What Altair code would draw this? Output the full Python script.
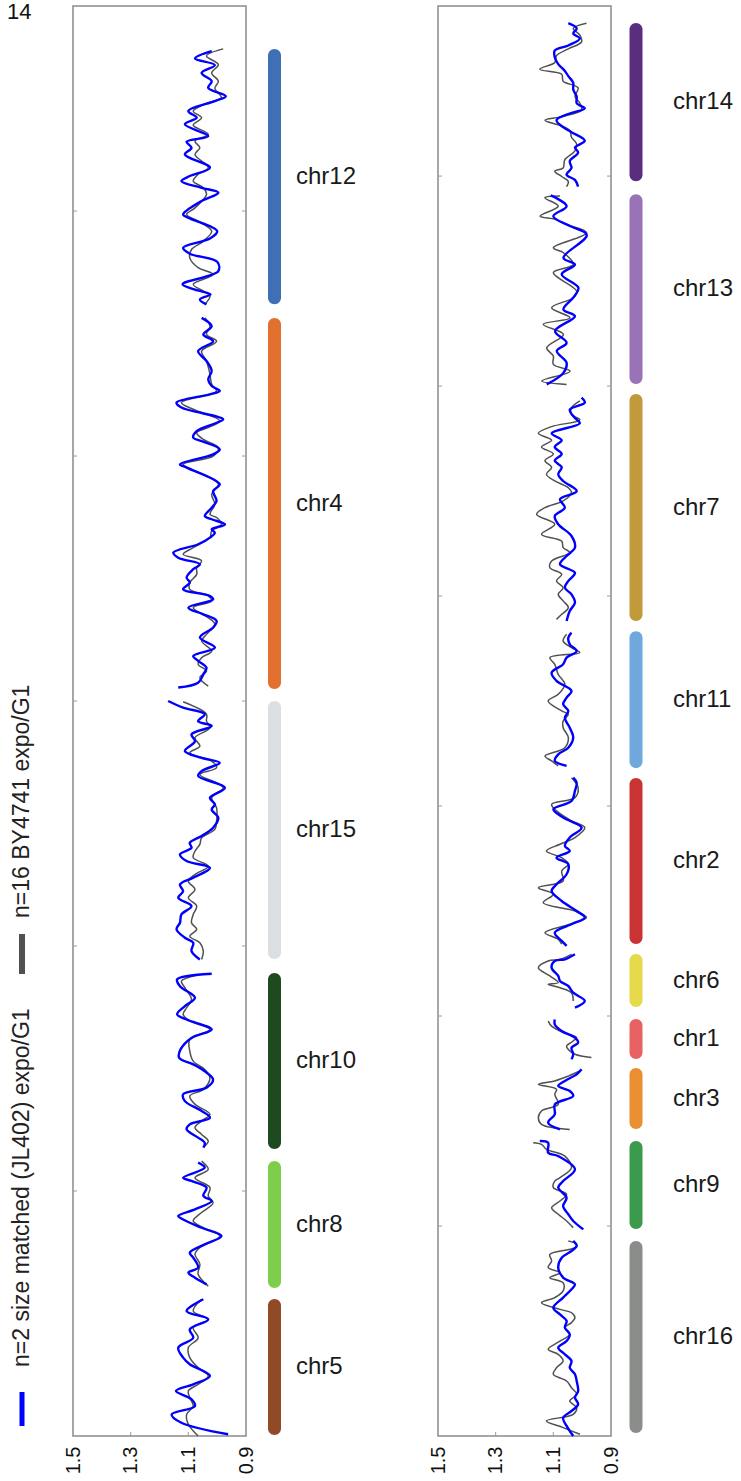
import altair as alt
import pandas as pd

# ---------------- chromosome blocks (Mb, cumulative from panel bottom) -------------
LEFT_CHR = ["chr12", "chr4", "chr15", "chr10", "chr8", "chr5"]
LEFT_TOP = [5.661, 4.563, 3.000, 1.890, 1.122, 0.559]
LEFT_BOTTOM = [4.620, 3.049, 1.947, 1.171, 0.604, 0.004]
LEFT_COLOR = ["#3f6fb4", "#e2702f", "#dcdfe2", "#1f4a1f", "#7dcf4b", "#904a26"]

RIGHT_CHR = ["chr14", "chr13", "chr7", "chr11", "chr2", "chr6", "chr1", "chr3", "chr9", "chr16"]
RIGHT_TOP = [6.729, 5.914, 4.962, 3.833, 3.133, 2.295, 1.986, 1.752, 1.405, 0.929]
RIGHT_BOTTOM = [5.976, 5.010, 3.881, 3.181, 2.343, 2.043, 1.795, 1.462, 0.986, 0.014]
RIGHT_COLOR = ["#5a2e7e", "#9a72b6", "#c09a3b", "#6fa8dc", "#c93333", "#e6d94c",
               "#e86262", "#e98f31", "#3b9a4b", "#8b8d8b"]

LEFT_TICKS = [1, 2, 3, 4, 5]
RIGHT_TICKS = [1, 2, 3, 4, 5, 6]
X_TICKS = [1.5, 1.3, 1.1, 0.9]
LEFT_MAX = 5.837
RIGHT_MAX = 6.810

LEGEND_LABELS = ["n=2 size matched (JL402) expo/G1", "n=16 BY4741 expo/G1"]
CORNER_TEXT = "14"

# ---------------- traces: (position Mb, expo/G1 ratio) ----------------
CHR12_BLUE = [(5.653,1.019),(5.623,1.077),(5.596,1.008),(5.564,1.054),(5.530,1.019),(5.503,1.031),(5.469,0.970),(5.449,1.008),(5.408,1.100),(5.381,1.071),(5.354,1.112),(5.306,1.031),(5.283,1.106),(5.258,1.089),(5.231,1.112),(5.177,1.025),(5.143,1.095),(5.122,1.124),(5.095,1.054),(5.075,0.996),(5.041,1.054),(4.986,1.118),(4.970,1.095),(4.918,1.000),(4.888,1.025),(4.850,1.118),(4.826,1.095),(4.793,1.000),(4.755,0.996),(4.701,1.120),(4.679,1.077),(4.660,1.023),(4.639,1.060),(4.619,1.037)]
CHR12_GRAY = [(5.662,0.979),(5.633,1.037),(5.598,0.996),(5.564,1.019),(5.530,0.996),(5.501,1.008),(5.462,0.985),(5.442,1.031),(5.408,1.083),(5.381,1.054),(5.351,1.083),(5.313,1.031),(5.286,1.077),(5.258,1.060),(5.231,1.077),(5.177,1.031),(5.150,1.066),(5.122,1.083),(5.095,1.048),(5.068,1.037),(5.013,1.077),(4.986,1.106),(4.959,1.066),(4.918,1.019),(4.877,1.048),(4.843,1.089),(4.809,1.095),(4.769,1.066),(4.741,1.014),(4.701,1.083),(4.673,1.048),(4.653,1.025),(4.619,1.043)]
CHR4_BLUE = [(4.564,1.054),(4.530,1.019),(4.496,1.048),(4.469,1.014),(4.428,1.066),(4.388,1.037),(4.347,1.019),(4.313,1.031),(4.286,1.019),(4.266,0.991),(4.252,1.025),(4.218,1.141),(4.198,1.124),(4.150,0.979),(4.136,1.002),(4.102,1.071),(4.075,1.083),(4.061,1.054),(4.027,0.991),(4.007,1.014),(3.966,1.129),(3.953,1.106),(3.885,0.991),(3.857,1.014),(3.817,1.002),(3.789,1.019),(3.755,1.043),(3.742,1.019),(3.721,0.973),(3.701,1.019),(3.687,1.008),(3.667,1.025),(3.640,1.066),(3.606,1.152),(3.585,1.135),(3.558,1.060),(3.538,1.083),(3.504,1.106),(3.483,1.095),(3.456,1.118),(3.429,1.025),(3.415,1.014),(3.381,1.100),(3.354,1.048),(3.327,1.002),(3.300,1.014),(3.259,1.060),(3.218,1.008),(3.184,1.083),(3.164,1.066),(3.136,1.037),(3.109,1.048),(3.075,1.066),(3.055,1.135)]
CHR4_GRAY = [(4.564,1.043),(4.530,1.025),(4.496,1.037),(4.469,1.002),(4.428,1.054),(4.388,1.037),(4.334,1.025),(4.293,1.019),(4.266,1.002),(4.252,1.025),(4.218,1.124),(4.191,1.083),(4.143,0.991),(4.116,1.031),(4.095,1.071),(4.068,1.048),(4.034,0.996),(4.000,1.014),(3.966,1.118),(3.946,1.089),(3.885,0.996),(3.844,1.019),(3.803,1.008),(3.762,1.025),(3.749,1.002),(3.721,0.985),(3.694,1.019),(3.667,1.025),(3.626,1.083),(3.599,1.118),(3.572,1.054),(3.544,1.071),(3.517,1.071),(3.483,1.095),(3.456,1.095),(3.429,1.031),(3.408,1.019),(3.381,1.083),(3.340,1.031),(3.313,1.008),(3.272,1.037),(3.245,1.054),(3.204,1.019),(3.177,1.054),(3.150,1.066),(3.123,1.037),(3.095,1.060),(3.061,1.031)]
CHR15_BLUE = [(3.000,1.170),(2.973,1.118),(2.946,1.043),(2.918,1.066),(2.898,1.019),(2.864,1.089),(2.836,1.077),(2.796,1.112),(2.768,1.054),(2.748,0.991),(2.714,1.054),(2.694,1.066),(2.646,0.973),(2.605,1.025),(2.578,1.008),(2.557,1.019),(2.523,0.996),(2.483,1.014),(2.449,1.054),(2.421,1.095),(2.401,1.089),(2.374,1.129),(2.347,1.106),(2.319,1.025),(2.279,1.083),(2.251,1.129),(2.224,1.118),(2.197,1.135),(2.163,1.089),(2.129,1.124),(2.095,1.129),(2.068,1.141),(2.034,1.112),(2.013,1.083),(1.979,1.089),(1.945,1.060)]
CHR15_GRAY = [(2.997,1.118),(2.946,1.037),(2.918,1.037),(2.891,1.025),(2.850,1.077),(2.816,1.060),(2.789,1.095),(2.755,1.019),(2.728,1.002),(2.700,1.060),(2.666,1.002),(2.646,0.979),(2.605,1.019),(2.564,1.002),(2.510,1.002),(2.476,1.008),(2.442,1.054),(2.415,1.060),(2.387,1.077),(2.360,1.083),(2.326,1.031),(2.292,1.077),(2.265,1.100),(2.231,1.077),(2.197,1.100),(2.163,1.071),(2.129,1.083),(2.095,1.089),(2.068,1.071),(2.040,1.095),(2.013,1.060),(1.979,1.048),(1.945,1.054)]
CHR10_BLUE = [(1.887,1.019),(1.864,1.139),(1.836,1.129),(1.789,1.077),(1.755,1.112),(1.721,1.139),(1.700,1.106),(1.659,1.019),(1.625,1.089),(1.578,1.127),(1.544,1.132),(1.517,1.083),(1.489,1.043),(1.455,1.014),(1.422,1.037),(1.395,1.118),(1.367,1.112),(1.327,1.054),(1.299,1.025),(1.272,1.095),(1.252,1.106),(1.218,1.066),(1.197,1.043),(1.177,1.048)]
CHR10_GRAY = [(1.881,1.071),(1.857,1.124),(1.830,1.112),(1.782,1.089),(1.748,1.106),(1.721,1.118),(1.694,1.095),(1.659,1.025),(1.619,1.095),(1.571,1.095),(1.530,1.083),(1.496,1.043),(1.462,1.025),(1.415,1.048),(1.388,1.095),(1.354,1.077),(1.313,1.025),(1.286,1.054),(1.259,1.077),(1.231,1.054),(1.204,1.031),(1.184,1.043)]
CHR8_BLUE = [(1.116,1.066),(1.095,1.043),(1.054,1.118),(1.041,1.089),(1.014,1.037),(0.980,1.048),(0.959,1.019),(0.925,1.077),(0.898,1.135),(0.884,1.118),(0.850,1.054),(0.816,0.985),(0.782,1.043),(0.748,1.095),(0.728,1.083),(0.687,1.066),(0.667,1.100),(0.646,1.077),(0.619,1.037)]
CHR8_GRAY = [(1.122,1.054),(1.088,1.031),(1.054,1.077),(1.014,1.025),(0.980,1.031),(0.952,1.014),(0.912,1.054),(0.878,1.083),(0.850,1.048),(0.816,0.991),(0.769,1.060),(0.742,1.077),(0.701,1.060),(0.660,1.066),(0.612,1.031)]
CHR5_BLUE = [(0.558,1.048),(0.510,1.106),(0.476,1.031),(0.435,1.095),(0.401,1.083),(0.361,1.135),(0.320,1.118),(0.293,1.095),(0.245,1.025),(0.211,1.083),(0.184,1.143),(0.150,1.089),(0.122,1.077),(0.088,1.158),(0.054,1.124),(0.007,0.962)]
CHR5_GRAY = [(0.558,1.054),(0.510,1.083),(0.476,1.031),(0.442,1.083),(0.401,1.066),(0.361,1.100),(0.320,1.095),(0.279,1.066),(0.245,1.031),(0.211,1.066),(0.184,1.100),(0.156,1.095),(0.122,1.083),(0.088,1.106),(0.048,1.100),(0.000,1.066)]

CHR14_BLUE = [(6.728,1.048),(6.703,1.019),(6.679,1.031),(6.655,1.008),(6.622,1.048),(6.598,1.095),(6.566,1.095),(6.533,1.083),(6.501,1.060),(6.476,1.048),(6.444,1.031),(6.412,1.031),(6.379,1.019),(6.347,1.019),(6.322,0.991),(6.298,1.043),(6.266,1.089),(6.233,1.066),(6.209,1.037),(6.168,0.991),(6.136,1.025),(6.112,1.014),(6.071,1.043),(6.039,1.037),(6.006,1.054),(5.982,1.025),(5.950,1.014)]
CHR14_GRAY = [(6.728,0.985),(6.703,1.031),(6.671,1.008),(6.639,1.002),(6.606,1.048),(6.574,1.089),(6.541,1.095),(6.509,1.147),(6.485,1.071),(6.452,1.066),(6.420,1.014),(6.379,1.025),(6.347,1.008),(6.314,1.002),(6.282,1.077),(6.266,1.129),(6.241,1.077),(6.217,1.043),(6.185,1.037),(6.152,1.019),(6.120,1.025),(6.079,1.060),(6.039,1.066),(6.023,1.095),(5.998,1.071),(5.974,1.048),(5.950,1.054)]
CHR13_BLUE = [(5.908,1.109),(5.857,1.054),(5.809,1.100),(5.762,1.042),(5.719,0.984),(5.611,1.065),(5.579,1.025),(5.532,1.071),(5.468,1.013),(5.421,1.031),(5.365,1.065),(5.333,1.025),(5.262,1.094),(5.206,1.054),(5.167,1.088),(5.111,1.054),(5.063,1.065),(5.008,1.123)]
CHR13_GRAY = [(5.905,1.077),(5.897,1.129),(5.857,1.083),(5.809,1.146),(5.794,1.094),(5.770,1.054),(5.730,0.984),(5.659,1.100),(5.635,1.065),(5.579,1.031),(5.540,1.100),(5.452,1.019),(5.421,1.031),(5.373,1.106),(5.325,1.042),(5.294,1.135),(5.246,1.065),(5.182,1.123),(5.143,1.100),(5.103,1.100),(5.071,1.042),(5.024,1.140),(5.008,1.054)]
CHR7_BLUE = [(4.945,1.002),(4.921,0.991),(4.888,1.043),(4.848,1.025),(4.823,1.008),(4.775,1.106),(4.742,1.071),(4.710,1.095),(4.677,1.071),(4.645,1.095),(4.613,1.071),(4.580,1.083),(4.548,1.066),(4.500,1.019),(4.461,1.077),(4.421,1.060),(4.381,1.095),(4.342,1.083),(4.286,1.037),(4.231,1.025),(4.191,1.054),(4.151,1.077),(4.111,1.025),(4.072,1.048),(4.040,1.060),(4.008,1.037),(3.969,1.025),(3.929,1.043),(3.881,1.054)]
CHR7_GRAY = [(4.929,1.008),(4.896,1.037),(4.864,1.037),(4.839,1.008),(4.807,1.106),(4.775,1.152),(4.742,1.106),(4.710,1.141),(4.677,1.100),(4.645,1.129),(4.613,1.106),(4.580,1.124),(4.548,1.095),(4.516,1.048),(4.492,1.037),(4.453,1.066),(4.421,1.129),(4.389,1.158),(4.342,1.095),(4.294,1.141),(4.262,1.071),(4.231,1.066),(4.207,1.043),(4.167,1.106),(4.135,1.112),(4.104,1.071),(4.072,1.089),(4.040,1.066),(4.008,1.083),(3.977,1.066),(3.945,1.048),(3.913,1.071),(3.889,1.089)]
CHR11_BLUE = [(3.826,1.037),(3.802,1.048),(3.770,1.043),(3.738,1.019),(3.707,1.054),(3.675,1.066),(3.635,1.106),(3.596,1.089),(3.548,1.037),(3.516,1.054),(3.485,1.066),(3.453,1.048),(3.421,1.060),(3.373,1.043),(3.326,1.031),(3.278,1.048),(3.246,1.083),(3.215,1.095),(3.191,1.054)]
CHR11_GRAY = [(3.818,1.054),(3.786,1.066),(3.754,1.037),(3.731,1.008),(3.707,1.112),(3.675,1.095),(3.627,1.083),(3.580,1.060),(3.532,1.083),(3.500,1.118),(3.453,1.071),(3.437,1.048),(3.405,1.066),(3.373,1.066),(3.326,1.048),(3.278,1.060),(3.238,1.129),(3.215,1.106),(3.191,1.083)]
CHR2_BLUE = [(3.135,1.031),(3.111,1.019),(3.072,1.025),(3.024,1.037),(2.985,1.100),(2.945,1.066),(2.897,1.002),(2.850,1.043),(2.810,1.060),(2.786,1.043),(2.754,1.089),(2.723,1.048),(2.675,1.054),(2.627,1.089),(2.596,1.106),(2.548,1.071),(2.500,1.019),(2.469,0.991),(2.437,1.037),(2.397,1.095),(2.358,1.071),(2.334,1.054)]
CHR2_GRAY = [(3.135,1.037),(3.088,1.014),(3.040,1.025),(3.008,1.106),(2.977,1.089),(2.929,1.037),(2.897,0.991),(2.850,1.025),(2.818,1.077),(2.786,1.124),(2.754,1.071),(2.723,1.048),(2.691,1.071),(2.643,1.066),(2.611,1.152),(2.580,1.100),(2.540,1.135),(2.500,1.025),(2.469,0.985),(2.437,1.043),(2.397,1.129),(2.365,1.083),(2.342,1.071)]
CHR6_BLUE = [(2.294,1.025),(2.270,1.060),(2.262,1.095),(2.230,1.106),(2.191,1.083),(2.167,1.077),(2.143,1.048),(2.111,1.031),(2.072,0.991),(2.040,1.025)]
CHR6_GRAY = [(2.294,1.037),(2.270,1.077),(2.262,1.118),(2.230,1.152),(2.191,1.112),(2.159,1.083),(2.151,1.118),(2.135,1.077),(2.111,1.037),(2.072,1.031)]
CHR1_BLUE = [(1.984,1.095),(1.960,1.095),(1.929,1.071),(1.897,1.025),(1.873,1.014),(1.849,1.037),(1.818,1.031),(1.794,1.037)]
CHR1_GRAY = [(1.976,1.118),(1.952,1.106),(1.921,1.066),(1.897,1.019),(1.881,1.031),(1.857,1.054),(1.841,1.048),(1.818,1.025),(1.802,0.968)]
CHR3_BLUE = [(1.746,1.002),(1.722,1.019),(1.691,1.060),(1.667,1.083),(1.643,1.043),(1.619,1.031),(1.579,1.095),(1.532,1.095),(1.492,1.118),(1.460,1.077)]
CHR3_GRAY = [(1.738,1.008),(1.714,1.048),(1.691,1.095),(1.675,1.152),(1.651,1.089),(1.627,1.095),(1.579,1.083),(1.548,1.141),(1.516,1.152),(1.484,1.141),(1.460,1.043)]
CHR9_BLUE = [(1.405,1.147),(1.397,1.118),(1.349,1.118),(1.333,1.083),(1.270,1.025),(1.214,1.066),(1.183,1.083),(1.135,1.054),(1.095,1.066),(1.056,1.048),(1.024,1.031),(0.984,0.996)]
CHR9_GRAY = [(1.397,1.170),(1.389,1.141),(1.365,1.124),(1.333,1.060),(1.278,1.037),(1.230,1.077),(1.214,1.095),(1.183,1.100),(1.151,1.054),(1.119,1.077),(1.087,1.106),(1.056,1.083),(1.024,1.054),(0.992,1.031)]
CHR16_BLUE = [(0.929,1.031),(0.905,1.019),(0.881,1.037),(0.849,1.071),(0.802,1.083),(0.754,1.066),(0.722,1.025),(0.699,1.037),(0.659,1.066),(0.611,1.100),(0.579,1.077),(0.548,1.054),(0.516,1.060),(0.484,1.043),(0.452,1.054),(0.421,1.083),(0.389,1.060),(0.357,1.037),(0.325,1.043),(0.294,1.025),(0.262,1.019),(0.214,1.014),(0.183,1.025),(0.151,1.014),(0.119,1.037),(0.087,1.066),(0.048,1.054),(0.000,1.031)]
CHR16_GRAY = [(0.929,1.048),(0.913,1.019),(0.897,1.025),(0.865,1.112),(0.833,1.106),(0.802,1.118),(0.778,1.077),(0.754,1.112),(0.730,1.066),(0.691,1.066),(0.659,1.095),(0.635,1.141),(0.603,1.077),(0.587,1.037),(0.564,1.025),(0.540,1.037),(0.516,1.060),(0.484,1.043),(0.452,1.077),(0.413,1.118),(0.389,1.083),(0.357,1.066),(0.325,1.089),(0.294,1.100),(0.262,1.054),(0.230,1.037),(0.199,1.019),(0.167,1.043),(0.135,1.019),(0.103,1.031),(0.072,1.124),(0.040,1.066),(0.008,1.008)]

LEFT_TRACES = {
    "chr12": (CHR12_BLUE, CHR12_GRAY), "chr4": (CHR4_BLUE, CHR4_GRAY),
    "chr15": (CHR15_BLUE, CHR15_GRAY), "chr10": (CHR10_BLUE, CHR10_GRAY),
    "chr8": (CHR8_BLUE, CHR8_GRAY), "chr5": (CHR5_BLUE, CHR5_GRAY),
}
RIGHT_TRACES = {
    "chr14": (CHR14_BLUE, CHR14_GRAY), "chr13": (CHR13_BLUE, CHR13_GRAY),
    "chr7": (CHR7_BLUE, CHR7_GRAY), "chr11": (CHR11_BLUE, CHR11_GRAY),
    "chr2": (CHR2_BLUE, CHR2_GRAY), "chr6": (CHR6_BLUE, CHR6_GRAY),
    "chr1": (CHR1_BLUE, CHR1_GRAY), "chr3": (CHR3_BLUE, CHR3_GRAY),
    "chr9": (CHR9_BLUE, CHR9_GRAY), "chr16": (CHR16_BLUE, CHR16_GRAY),
}

BLUE = "#0000ff"
GRAY = "#505050"
FONT = "Liberation Sans"
PANEL_W = 173
PANEL_H = 1430


def trace_frame(traces):
    rows = []
    for chrom, (blue, gray) in traces.items():
        for series, pts in (("blue", blue), ("gray", gray)):
            for i, (p, v) in enumerate(pts):
                rows.append({"chrom": chrom, "series": series, "idx": i, "pos": p, "val": v})
    return pd.DataFrame(rows)


def trace_panel(traces, ticks, ymax):
    df = trace_frame(traces)
    ysc = alt.Scale(domain=[0, ymax], nice=False, zero=False)
    xsc = alt.Scale(domain=[0.9, 1.5], reverse=True, nice=False, zero=False)
    xaxis = alt.Axis(values=X_TICKS, ticks=False, domain=False, grid=False,
                     labelAngle=270, labelFontSize=20, labelPadding=10,
                     labelColor="#111111", labelFont=FONT, format=".1f", title=None)
    base = alt.Chart(df)
    gray = base.transform_filter(alt.datum.series == "gray").mark_line(
        color=GRAY, strokeWidth=1.5, interpolate="catmull-rom"
    ).encode(
        x=alt.X("val:Q", scale=xsc, axis=xaxis),
        y=alt.Y("pos:Q", scale=ysc, axis=None),
        detail="chrom:N", order="idx:Q",
    )
    blue = base.transform_filter(alt.datum.series == "blue").mark_line(
        color=BLUE, strokeWidth=2.4, interpolate="catmull-rom"
    ).encode(
        x=alt.X("val:Q", scale=xsc, axis=xaxis),
        y=alt.Y("pos:Q", scale=ysc, axis=None),
        detail="chrom:N", order="idx:Q",
    )
    tdf = pd.DataFrame({"pos": ticks})
    ltick = alt.Chart(tdf).mark_rule(color="#9a9a9a", strokeWidth=1).encode(
        y=alt.Y("pos:Q", scale=ysc, axis=None), x=alt.value(0), x2=alt.value(4))
    rtick = alt.Chart(tdf).mark_rule(color="#9a9a9a", strokeWidth=1).encode(
        y=alt.Y("pos:Q", scale=ysc, axis=None), x=alt.value(PANEL_W - 4), x2=alt.value(PANEL_W))
    xdf = pd.DataFrame({"val": X_TICKS[1:3]})
    xtick = alt.Chart(xdf).mark_rule(color="#9a9a9a", strokeWidth=1).encode(
        x=alt.X("val:Q", scale=xsc, axis=xaxis), y=alt.value(PANEL_H - 4), y2=alt.value(PANEL_H))
    return alt.layer(gray, blue, ltick, rtick, xtick).properties(
        width=PANEL_W, height=PANEL_H,
        view=alt.ViewBackground(stroke="#8a8a8a", strokeWidth=1.5, fill="white"))


def chrom_panel(names, tops, bottoms, colors, ymax, bar_x, label_x, width):
    df = pd.DataFrame({"chrom": names, "top": tops, "bottom": bottoms, "color": colors})
    df["mid"] = (df["top"] + df["bottom"]) / 2
    ysc = alt.Scale(domain=[0, ymax], nice=False, zero=False)
    bars = alt.Chart(df).mark_bar(cornerRadius=6.5).encode(
        y=alt.Y("top:Q", scale=ysc, axis=None), y2="bottom:Q",
        x=alt.value(bar_x - 6.5), x2=alt.value(bar_x + 6.5),
        color=alt.Color("color:N", scale=None, legend=None))
    labels = alt.Chart(df).mark_text(
        align="left", baseline="middle", fontSize=24, font=FONT, color="#1a1a1a"
    ).encode(y=alt.Y("mid:Q", scale=ysc, axis=None), x=alt.value(label_x), text="chrom:N")
    return alt.layer(bars, labels).properties(
        width=width, height=PANEL_H, view=alt.ViewBackground(strokeOpacity=0))


# legend panel (coordinates relative to the panel, whose top sits at page y=5)
leg_df = pd.DataFrame({"label": LEGEND_LABELS})
leg_blue_txt = alt.Chart(leg_df.iloc[[0]]).mark_text(
    angle=270, align="left", baseline="middle", fontSize=23, font=FONT, color="#222222"
).encode(text="label:N", x=alt.value(22), y=alt.value(1361))
leg_gray_txt = alt.Chart(leg_df.iloc[[1]]).mark_text(
    angle=270, align="left", baseline="middle", fontSize=23, font=FONT, color="#222222"
).encode(text="label:N", x=alt.value(22), y=alt.value(912))
leg_blue_sw = alt.Chart(leg_df.iloc[[0]]).mark_rule(color=BLUE, strokeWidth=5).encode(
    x=alt.value(22), y=alt.value(1386), y2=alt.value(1420))
leg_gray_sw = alt.Chart(leg_df.iloc[[1]]).mark_rule(color=GRAY, strokeWidth=6).encode(
    x=alt.value(22), y=alt.value(928), y2=alt.value(968))
corner = alt.Chart(pd.DataFrame({"t": [CORNER_TEXT]})).mark_text(
    align="left", baseline="top", fontSize=22, font=FONT, color="#111111"
).encode(text="t:N", x=alt.value(7), y=alt.value(-4))
legend_panel = alt.layer(leg_blue_txt, leg_gray_txt, leg_blue_sw, leg_gray_sw, corner).properties(
    width=73, height=PANEL_H, view=alt.ViewBackground(strokeOpacity=0))

left_trace = trace_panel(LEFT_TRACES, LEFT_TICKS, LEFT_MAX)
left_chrom = chrom_panel(LEFT_CHR, LEFT_TOP, LEFT_BOTTOM, LEFT_COLOR, LEFT_MAX, 28.5, 50, 192)
right_trace = trace_panel(RIGHT_TRACES, RIGHT_TICKS, RIGHT_MAX)
right_chrom = chrom_panel(RIGHT_CHR, RIGHT_TOP, RIGHT_BOTTOM, RIGHT_COLOR, RIGHT_MAX, 25, 62, 130)

chart = alt.hconcat(
    legend_panel, left_trace, left_chrom, right_trace, right_chrom,
    spacing=0, bounds="flush",
).properties(
    padding={"left": 0, "right": 0, "top": 1, "bottom": 0},
    background="white",
).resolve_scale(x="independent", y="independent").configure(font=FONT)

chart.save("out.html", embed_options={"renderer": "svg", "actions": False})
